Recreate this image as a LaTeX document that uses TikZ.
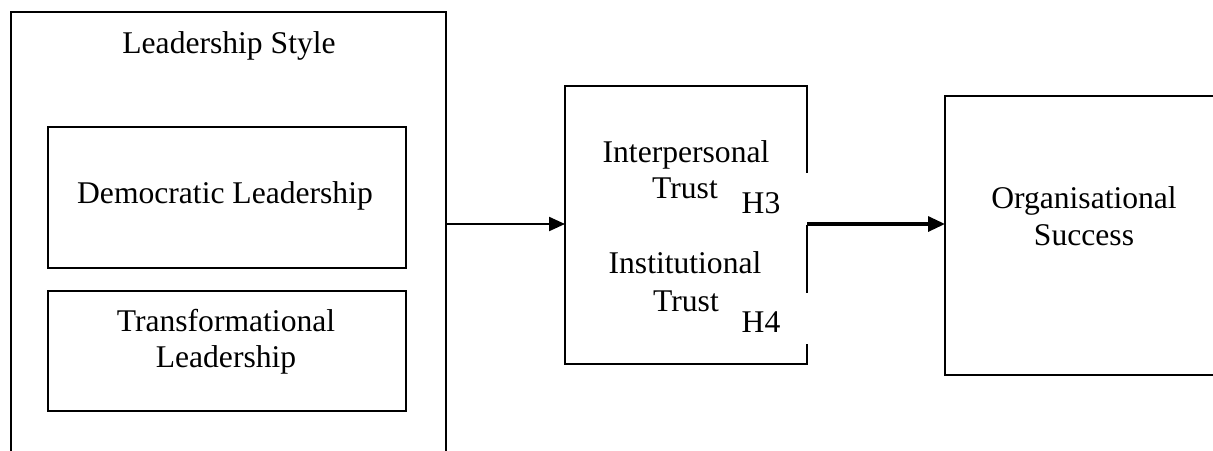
\documentclass[tikz,border=0pt]{standalone}
\usepackage{fontspec}
\setmainfont{Liberation Serif}
\usetikzlibrary{arrows.meta}
\begin{document}
\begin{tikzpicture}[x=0.5pt,y=-0.5pt,
  frame/.style={draw=black,line width=1.1pt,fill=none,inner sep=0pt,outer sep=0pt},
  patch/.style={fill=white,draw=none,inner sep=0pt,outer sep=0pt},
  lbl/.style={inner sep=0pt,anchor=base,font=\fontsize{15.8}{18}\selectfont},
  link/.style={line width=1.1pt,-{Triangle[length=8pt,width=7pt]}},
  boldlink/.style={line width=1.6pt,-{Triangle[length=8.5pt,width=7.5pt]}}]
\clip (0,0) rectangle (1213,450);
\useasboundingbox (0,0) rectangle (1213,450);

% leadership style block with its two sub-boxes
\node[frame,minimum width=217.5pt,minimum height=235pt] (style) at (228.5,247) {};
\node[frame,minimum width=179pt,minimum height=70.5pt] (demo) at (227,197.5) {};
\node[frame,minimum width=179pt,minimum height=60pt] (trans) at (227,351) {};
\node[lbl] (tStyle) at (229,53) {Leadership Style};
\node[lbl] (tDemo) at (225,203) {Democratic Leadership};
\node[lbl] (tTrans1) at (226,331) {Transformational};
\node[lbl] (tTrans2) at (226,367) {Leadership};

% trust block
\node[frame,minimum width=121pt,minimum height=139pt] (trust) at (686,225) {};
\node[patch,minimum width=34.5pt,minimum height=26pt] (h3box) at (774.5,199) {};
\node[patch,minimum width=34.5pt,minimum height=25.5pt] (h4box) at (774.5,318.5) {};
\node[lbl] (tInter1) at (686,162) {Interpersonal};
\node[lbl] (tInter2) at (685,198) {Trust};
\node[lbl] (tInst1) at (685,273) {Institutional};
\node[lbl] (tInst2) at (686,311) {Trust};
\node[lbl] (h3) at (761,213) {H3};
\node[lbl] (h4) at (761,332) {H4};

% outcome block
\node[frame,minimum width=139pt,minimum height=139.5pt] (success) at (1084,235.5) {};
\node[lbl] (tSucc1) at (1084,208) {Organisational};
\node[lbl] (tSucc2) at (1084,245) {Success};

% connectors
\coordinate (a1) at (style.east |- 0,224);
\coordinate (a2) at (trust.west |- 0,224);
\coordinate (b1) at (trust.east |- 0,224);
\coordinate (b2) at (success.west |- 0,224);
\draw[link] (a1) -- (a2);
\draw[boldlink] (b1) -- (b2);
\end{tikzpicture}
\end{document}
